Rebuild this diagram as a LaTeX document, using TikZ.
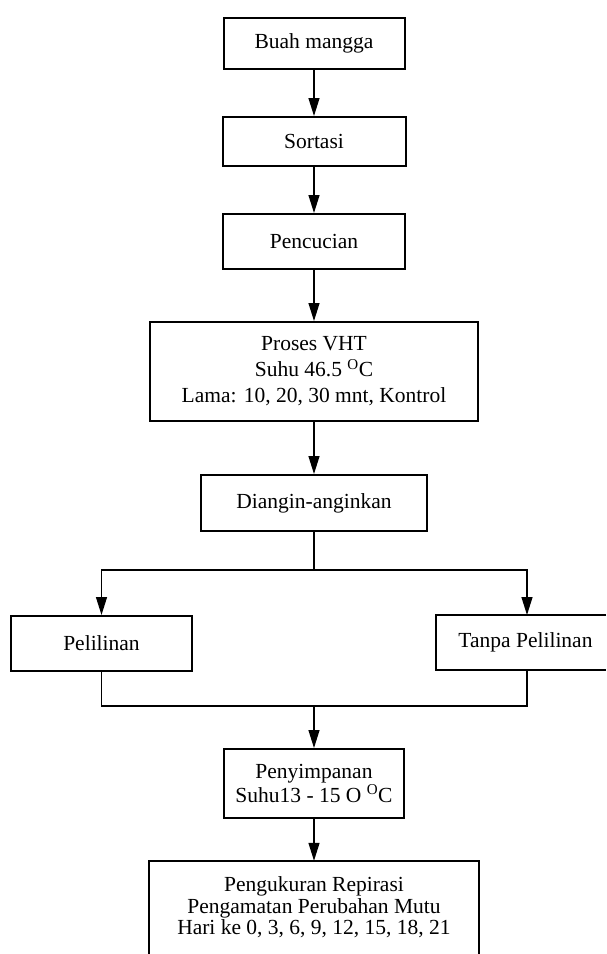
\documentclass[tikz,border=0pt]{standalone}
\usepackage{fontspec}
\setmainfont{Liberation Serif}
\usetikzlibrary{arrows.meta}
\begin{document}
\begin{tikzpicture}[x=1pt,y=-1pt,
  txt/.style={inner sep=0pt,align=center,font=\fontsize{21.5}{26}\selectfont},
  box/.style={txt,draw,line width=2pt},
  edge/.style={line width=2pt},
  conn/.style={line width=1.3pt},
  arr/.style={conn,-{Triangle[length=18pt,width=11pt]}}]
\useasboundingbox (0,0) rectangle (606,954);
\node[box,minimum width=181pt,minimum height=51pt] (buah) at (314,43.5) {Buah mangga};
\node[box,minimum width=183pt,minimum height=49pt] (sortasi) at (314,141.5) {Sortasi};
\node[box,minimum width=182pt,minimum height=55pt] (cuci) at (314,241.5) {Pencucian};
\node[box,minimum width=328pt,minimum height=99pt] (vht) at (314,371.5) {Proses VHT\\Suhu 46.5 \textsuperscript{O}C\\Lama: 10, 20, 30 mnt, Kontrol};
\node[box,minimum width=226pt,minimum height=56pt] (angin) at (314,503) {Diangin-anginkan};
\node[box,minimum width=181pt,minimum height=55pt] (pel) at (101.5,643.5) {Pelilinan};
\node[txt] (tanpa) at (525.5,642.5) {Tanpa Pelilinan};
\draw[edge] (606,615) -- (436,615) -- (436,670) -- (606,670);
\node[box,minimum width=180pt,minimum height=69pt,font=\fontsize{21.5}{24}\selectfont] (simpan) at (314,783.5) {Penyimpanan\\Suhu13 - 15 O \textsuperscript{O}C};
\node[txt,minimum width=330pt,minimum height=93pt,font=\fontsize{21.5}{21.5}\selectfont] (ukur) at (314,907.5) {Pengukuran Repirasi\\Pengamatan Perubahan Mutu\\Hari ke 0, 3, 6, 9, 12, 15, 18, 21};
\draw[edge] (ukur.south west) -- (ukur.north west) -- (ukur.north east) -- (ukur.south east);
\coordinate (split) at (314,570);
\coordinate (merge) at (314,706);
\coordinate (tanpaN) at (527,615);
\coordinate (tanpaS) at (527,670);
\draw[arr] (buah) -- (sortasi);
\draw[arr] (sortasi) -- (cuci);
\draw[arr] (cuci) -- (vht);
\draw[arr] (vht) -- (angin);
\draw[conn] (angin.south) -- (split);
\draw[arr] (split) -| (pel.north);
\draw[arr] (split) -| (tanpaN);
\draw[conn] (pel.south) |- (merge);
\draw[conn] (tanpaS) |- (merge);
\draw[arr] (merge) -- (simpan.north);
\draw[arr] (simpan) -- (ukur.north);
\end{tikzpicture}
\end{document}
